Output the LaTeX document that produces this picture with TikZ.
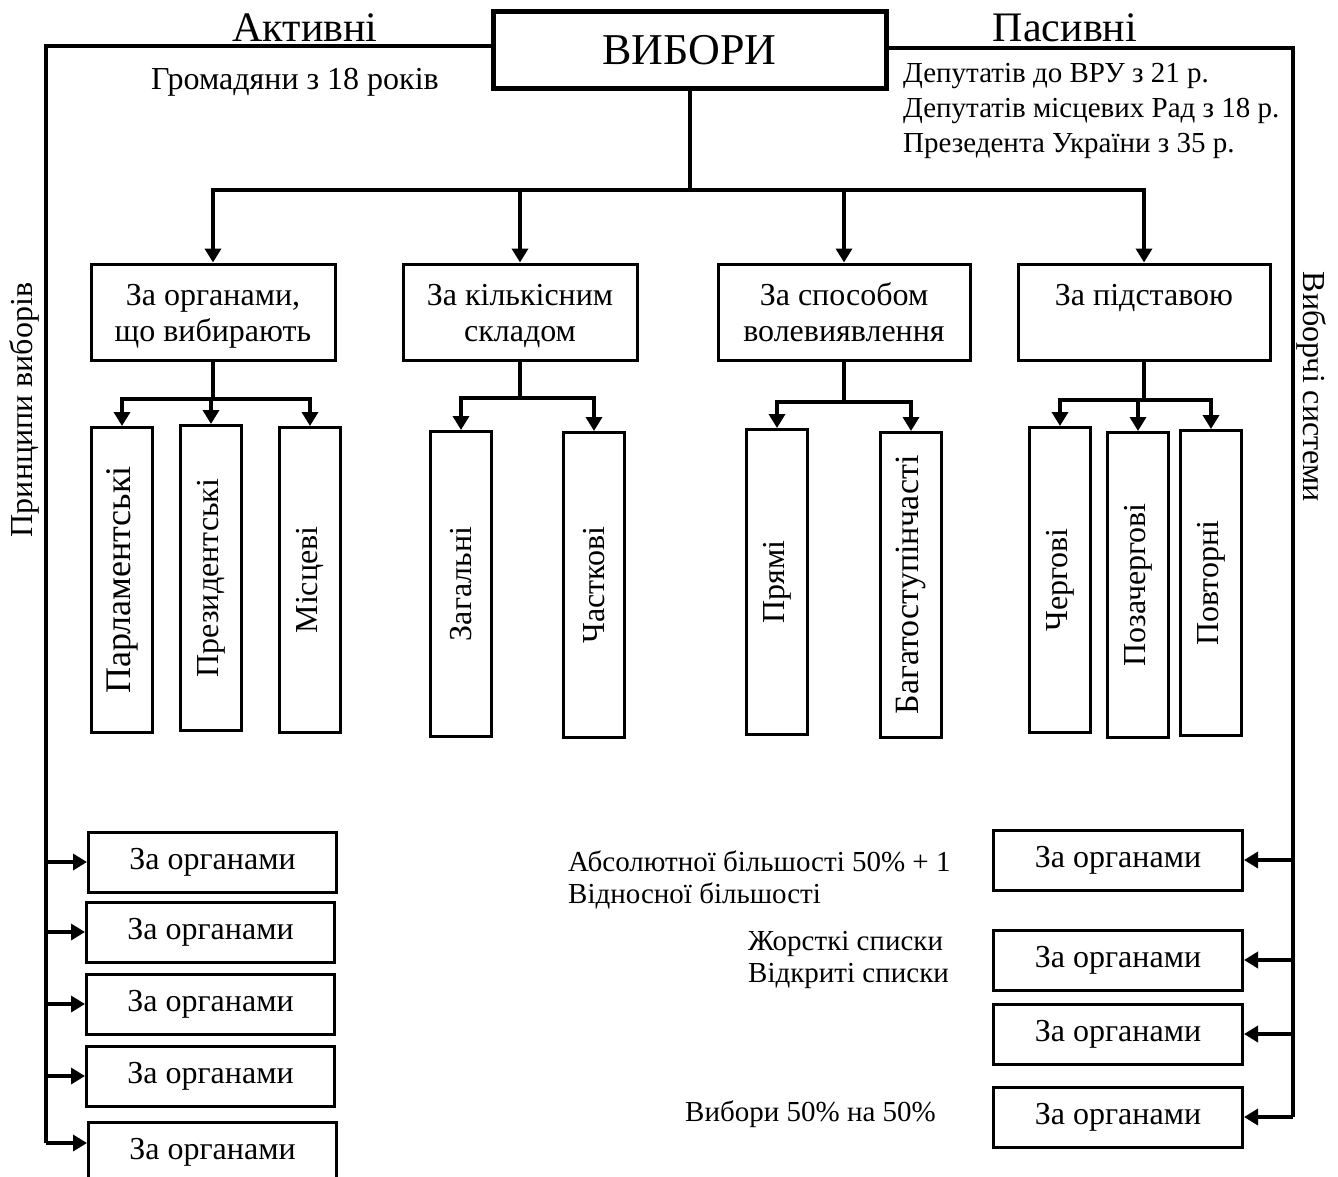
\documentclass[tikz,border=0pt]{standalone}
\usepackage{fontspec}
\setmainfont{Liberation Serif}
\usepackage{tikz}
\usetikzlibrary{arrows.meta}

\begin{document}
\begin{tikzpicture}[x=1pt, y=-1pt,
    txt/.style={inner sep=0pt, font=\fontsize{32}{34}\selectfont},
    note/.style={inner sep=0pt, anchor=west, align=left, font=\fontsize{29}{32}\selectfont},
    box/.style={draw, line width=3pt, inner sep=0pt, align=center, font=\fontsize{32}{36}\selectfont},
    catbox/.style={box, minimum height=96, text height=62pt, text depth=4pt},
    vbox/.style={box, minimum width=61, minimum height=305},
    hbox/.style={box, minimum width=248, minimum height=60},
    conn/.style={line width=4pt},
    arr/.style={conn, -{Triangle[width=16pt,length=14pt]}}]
    \useasboundingbox (0,0) rectangle (1338,1177);
    \clip (0,0) rectangle (1338,1177);

    % Main box
    \node[box, line width=5pt, minimum width=393, minimum height=77, font=\fontsize{44}{50}\selectfont] (vybory) at (689.5,50.5) {ВИБОРИ};

    % Headings and notes
    \node[txt, font=\fontsize{42}{46}\selectfont] (aktyvni) at (305,28) {Активні};
    \node[txt, font=\fontsize{42}{46}\selectfont] (pasyvni) at (1065,28) {Пасивні};
    \node[txt] (hromadiany) at (295,82) {Громадяни з 18 років};
    \node[note, font=\fontsize{29}{35}\selectfont] (vik) at (903,111)
        {Депутатів до ВРУ з 21 р.\\Депутатів місцевих Рад з 18 р.\\Презедента України з 35 р.};
    \node[txt, rotate=90] (pryntsypy) at (24,410) {Принципи виборів};
    \node[txt, rotate=-90] (systemy) at (1312,387) {Виборчі системи};

    % Classification
    \node[catbox, minimum width=244] (cat1) at (213,312) {За органами,\\що вибирають};
    \node[catbox, minimum width=234] (cat2) at (520,312) {За кількісним\\складом};
    \node[catbox, minimum width=252] (cat3) at (844,312) {За способом\\волевиявлення};
    \node[catbox, minimum width=252] (cat4) at (1144,312) {За підставою\\\mbox{}};

    \coordinate (hub) at (vybory.south |- 0,190);
    \draw[conn] (vybory.south) -- (hub);
    \foreach \c in {cat1,cat2,cat3,cat4}
        \draw[arr] (hub) -| (\c.north);

    % Kinds
    \foreach \n/\x/\y/\s/\t in {p1/122/580/36/Парламентські, p2/211/578/32/Президентські, p3/310/580/32/Місцеві,
            zah/461/584/32/Загальні, chast/594/585/32/Часткові,
            priami/777/582/32/Прямі, bahato/911/585/34/Багатоступінчасті,
            cherh/1060/580/32/Чергові, pozach/1138/585/32/Позачергові, povt/1211/583/32/Повторні}
        \node[vbox, font=\fontsize{\s}{\s}\selectfont] (\n) at (\x,\y) {\rotatebox{90}{\t}};

    \coordinate (h1) at (cat1.south |- 0,399);
    \coordinate (h2) at (cat2.south |- 0,398);
    \coordinate (h3) at (cat3.south |- 0,402);
    \coordinate (h4) at (cat4.south |- 0,400);
    \foreach \h/\c in {h1/cat1,h2/cat2,h3/cat3,h4/cat4}
        \draw[conn] (\c.south) -- (\h);
    \foreach \h/\s in {h1/p1,h1/p2,h1/p3,h2/zah,h2/chast,h3/priami,h3/bahato,h4/cherh,h4/pozach,h4/povt}
        \draw[arr] (\h) -| (\s.north);

    % Principles (left)
    \node[hbox] (pr1) at (212.5,862) {За органами};
    \node[hbox] (pr2) at (210.5,932) {За органами};
    \node[hbox] (pr3) at (210.5,1004) {За органами};
    \node[hbox] (pr4) at (210.5,1076) {За органами};
    \node[hbox] (pr5) at (212.5,1152) {За органами};
    \coordinate (lrail) at (46,46);
    \coordinate (lend) at (46,1143);
    \draw[conn] (vybory.west |- lrail) -- (lrail) -- (lend);
    \foreach \b in {pr1,pr2,pr3,pr4}
        \draw[arr] (\b.west -| lrail) -- (\b.west);
    \draw[arr] (lend) -- (pr5.west |- lend);

    % Systems (right)
    \node[hbox, minimum width=249] (vs1) at (1118,860) {За органами};
    \node[hbox, minimum width=249] (vs2) at (1118,960) {За органами};
    \node[hbox, minimum width=249] (vs3) at (1118,1034) {За органами};
    \node[hbox, minimum width=249] (vs4) at (1118,1117) {За органами};
    \coordinate (rrail) at (1293,48);
    \draw[conn] (vybory.east |- rrail) -- (rrail) -- (vs4.east -| rrail);
    \foreach \b in {vs1,vs2,vs3,vs4}
        \draw[arr] (\b.east -| rrail) -- (\b.east);

    \node[note] (bilshist) at (568,880) {Абсолютної більшості 50\% + 1\\Відносної більшості};
    \node[note] (spysky) at (748,960) {Жорсткі списки\\Відкриті списки};
    \node[note] (zmishani) at (685,1114) {Вибори 50\% на 50\%};
\end{tikzpicture}
\end{document}
